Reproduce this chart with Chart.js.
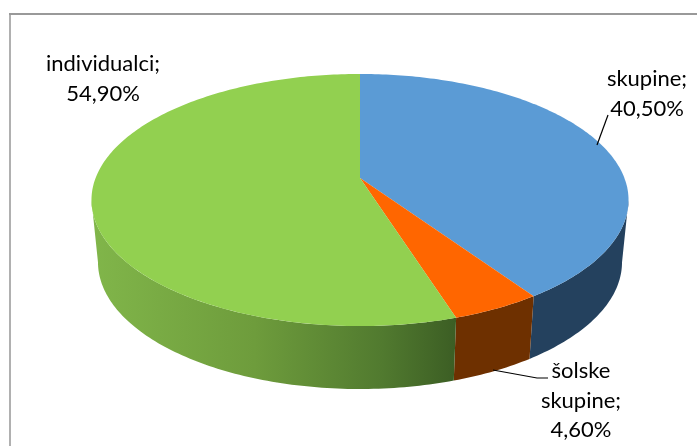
<!DOCTYPE html>
<html>
<head>
<meta charset="utf-8">
<style>
  html, body { margin: 0; padding: 0; background: #fff; }
  #wrap { width: 697px; height: 446px; }
</style>
<script src="https://cdn.jsdelivr.net/npm/chart.js@4"></script>
</head>
<body>
<div id="wrap"><canvas id="chart" width="697" height="446"></canvas></div>
<script>
const categories = ['skupine', 'šolske skupine', 'individualci'];
const shares = [40.5, 4.6, 54.9];
const labelLines = [
    ['skupine;', '40,50%'],
    ['šolske', 'skupine;', '4,60%'],
    ['individualci;', '54,90%']
];
const topColors = ['#5B9BD5', '#FF6600', '#92D050'];
const labelSpots = [[647, 86], [581, 378], [103, 71]];
const leaderLines = [
    [[597, 145], [608, 115]],
    [[493, 370], [537, 378], [548, 378]],
    []
];

// perspective of the pie: top face and bottom face of the slab
const K = 0.1746;
const TOP = { rx: 264.4, ry: 122.2, cy: 178 };
const BOTTOM = { rx: 258, ry: 123, cy: 240 };

function project(face, cx, angle) {
    const u = Math.cos(angle), v = Math.sin(angle), w = 1 - K * v;
    return [cx + face.rx * u / w, face.cy + face.ry * v / w];
}

function traceEdge(ctx, face, cx, from, to) {
    const n = Math.max(2, Math.ceil(Math.abs(to - from) * 60));
    for (let i = 0; i <= n; i++) {
        const p = project(face, cx, from + (to - from) * i / n);
        ctx.lineTo(p[0], p[1]);
    }
}

function wallFill(ctx, index) {
    const g = ctx.createLinearGradient(90, 0, 630, 0);
    if (index === 0) {
        g.addColorStop(0, '#24415E');
        g.addColorStop(1, '#24415E');
    } else if (index === 1) {
        g.addColorStop(0, '#6E3000');
        g.addColorStop(1, '#6E3000');
    } else {
        const end = (455 - 90) / 540;
        g.addColorStop(0, '#81B64A');
        g.addColorStop(end * 0.45, '#6E9C3C');
        g.addColorStop(end * 0.8, '#517A2F');
        g.addColorStop(end, '#3C5E24');
        g.addColorStop(1, '#3C5E24');
    }
    return g;
}

const pie3d = {
    id: 'pie3d',
    beforeDraw(chart) {
        const ctx = chart.ctx;
        ctx.save();
        ctx.fillStyle = '#fff';
        ctx.fillRect(0, 0, chart.width, chart.height);
        ctx.lineWidth = 2;
        ctx.strokeStyle = '#B0B0B0';
        ctx.beginPath();
        ctx.moveTo(10, 446);
        ctx.lineTo(10, 14);
        ctx.stroke();
        ctx.strokeStyle = '#999999';
        ctx.beginPath();
        ctx.moveTo(9, 14);
        ctx.lineTo(697, 14);
        ctx.stroke();
        ctx.restore();
    },
    beforeDatasetsDraw(chart) {
        const ctx = chart.ctx;
        const arcs = chart.getDatasetMeta(0).data;
        // the wall only shows on the near side of the slab
        const wallFrom = Math.asin(K), wallTo = Math.PI - Math.asin(K);
        ctx.save();
        arcs.forEach((arc, i) => {
            const a = Math.max(arc.startAngle, wallFrom);
            const b = Math.min(arc.endAngle, wallTo);
            if (b <= a) return;
            ctx.beginPath();
            traceEdge(ctx, TOP, arc.x, a, b);
            traceEdge(ctx, BOTTOM, arc.x, b, a);
            ctx.closePath();
            ctx.fillStyle = wallFill(ctx, i);
            ctx.fill();
        });
        arcs.forEach((arc, i) => {
            ctx.beginPath();
            ctx.moveTo(arc.x, TOP.cy);
            traceEdge(ctx, TOP, arc.x, arc.startAngle, arc.endAngle);
            ctx.closePath();
            ctx.fillStyle = topColors[i];
            ctx.fill();
        });
        ctx.restore();
        return false;
    },
    afterDraw(chart) {
        const ctx = chart.ctx;
        ctx.save();
        ctx.strokeStyle = '#000';
        ctx.lineWidth = 1.2;
        leaderLines.forEach(line => {
            if (!line.length) return;
            ctx.beginPath();
            line.forEach((p, i) => i ? ctx.lineTo(p[0], p[1]) : ctx.moveTo(p[0], p[1]));
            ctx.stroke();
        });
        ctx.fillStyle = '#000';
        ctx.font = '22px Lato';
        ctx.textAlign = 'center';
        labelLines.forEach((lines, i) => {
            lines.forEach((text, j) => {
                ctx.fillText(text, labelSpots[i][0], labelSpots[i][1] + j * 29.5);
            });
        });
        ctx.restore();
    }
};

const ctx = document.getElementById('chart').getContext('2d');
const chart = new Chart(ctx, {
    type: 'pie',
    data: {
        labels: categories,
        datasets: [{ data: shares, backgroundColor: topColors, borderWidth: 0 }]
    },
    options: {
        responsive: false,
        animation: false,
        layout: { padding: { left: 23, bottom: 90 } },
        plugins: { legend: { display: false }, tooltip: { enabled: false } }
    },
    plugins: [pie3d]
});
</script>
</body>
</html>
